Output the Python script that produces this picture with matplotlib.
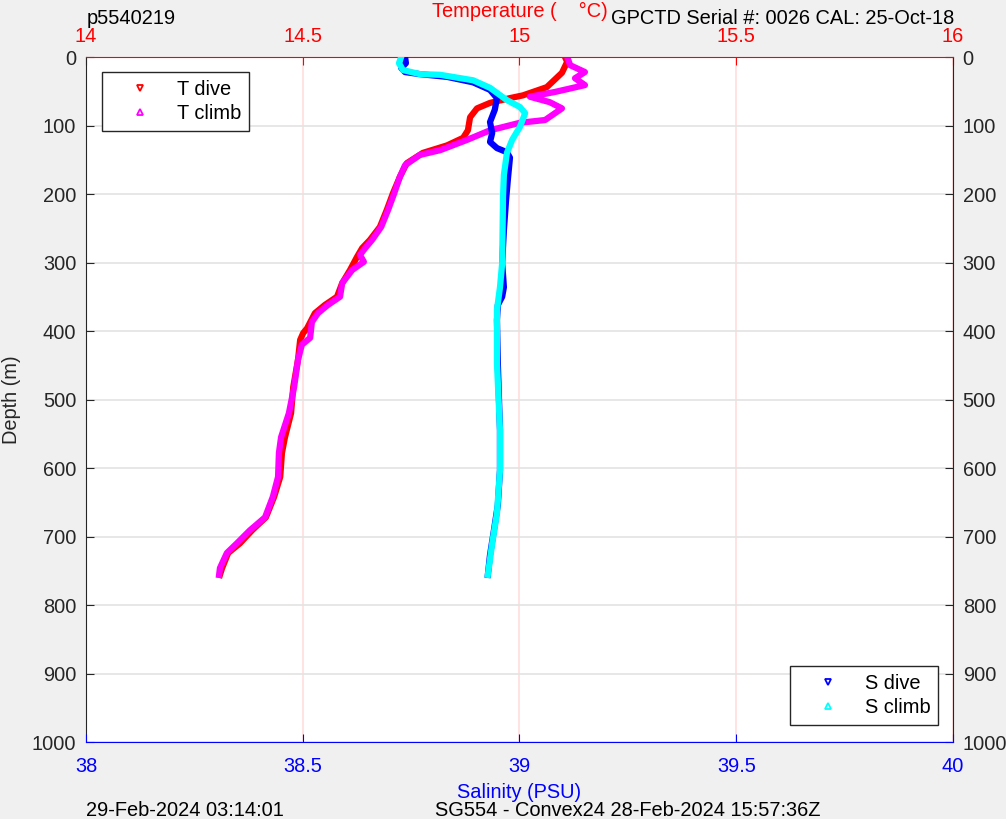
import numpy as np
import matplotlib
matplotlib.use('Agg')
import matplotlib.pyplot as plt
from matplotlib.lines import Line2D

plt.rcParams['font.family'] = ['Liberation Sans', 'DejaVu Sans']
plt.rcParams['font.size'] = 14.4

# temperature dive / climb (deg C) against depth (m)
t_dive = [15.105, 15.110, 15.098, 15.063, 15.008, 14.978, 14.932, 14.902, 14.886, 14.881,
          14.870, 14.833, 14.777, 14.740, 14.724, 14.708, 14.694, 14.678, 14.655, 14.637,
          14.625, 14.609, 14.591, 14.579, 14.551, 14.528, 14.510, 14.501, 14.494, 14.489,
          14.478, 14.473, 14.459, 14.452, 14.448, 14.434, 14.415, 14.383, 14.355, 14.328,
          14.314, 14.309]
d_t_dive = [0, 7, 23, 44, 56, 60, 67, 75, 88, 107,
            118, 129, 140, 155, 175, 199, 223, 248, 267, 279,
            292, 311, 330, 350, 362, 374, 396, 403, 413, 442,
            482, 520, 555, 578, 613, 642, 672, 691, 710, 724,
            746, 756]

t_climb = [15.110, 15.117, 15.151, 15.128, 15.151, 15.082, 15.024, 15.070, 15.098, 15.059,
           15.001, 14.932, 14.879, 14.817, 14.770, 14.736, 14.724, 14.711, 14.697, 14.681,
           14.660, 14.644, 14.632, 14.641, 14.614, 14.591, 14.586, 14.558, 14.535, 14.521,
           14.519, 14.517, 14.498, 14.489, 14.480, 14.468, 14.450, 14.445, 14.443, 14.431,
           14.413, 14.378, 14.348, 14.325, 14.309, 14.307]
d_t_climb = [0, 12, 22, 31, 41, 51, 58, 66, 75, 92,
             96, 107, 121, 136, 143, 158, 175, 199, 223, 248,
             267, 279, 289, 299, 311, 330, 350, 362, 374, 387,
             399, 410, 420, 442, 482, 520, 555, 578, 613, 642,
             672, 691, 710, 724, 746, 756]

# salinity dive / climb (PSU)
s_dive = [38.736, 38.738, 38.727, 38.736, 38.770, 38.833, 38.893, 38.932, 38.948, 38.943,
          38.932, 38.937, 38.932, 38.948, 38.971, 38.978, 38.973, 38.969, 38.964, 38.960,
          38.962, 38.964, 38.960, 38.950, 38.948, 38.950, 38.955, 38.955, 38.950, 38.941,
          38.932, 38.927]
d_s_dive = [0, 9, 16, 22, 25, 29, 37, 48, 60, 77,
            95, 111, 124, 133, 139, 147, 180, 209, 253, 301,
            318, 336, 350, 362, 384, 447, 545, 603, 654, 691,
            727, 756]

s_climb = [38.727, 38.722, 38.731, 38.770, 38.817, 38.893, 38.932, 38.971, 39.001, 39.013,
           39.001, 38.983, 38.971, 38.964, 38.962, 38.960, 38.955, 38.948, 38.948, 38.955,
           38.955, 38.948, 38.937, 38.927]
d_s_climb = [0, 9, 19, 25, 26, 34, 45, 63, 73, 82,
             102, 121, 140, 172, 204, 301, 336, 369, 447, 545,
             603, 666, 710, 756]

fig = plt.figure(figsize=(10.06, 8.19), dpi=100, facecolor='#f0f0f0')
ax = fig.add_axes([0.0855, 0.094, 0.8618, 0.8364])   # temperature axis (top)
ax_s = ax.twiny()                                    # salinity axis (bottom)

ax.xaxis.tick_top()
ax.xaxis.set_label_position('top')
ax_s.xaxis.tick_bottom()
ax_s.xaxis.set_label_position('bottom')

ax.plot(t_dive, d_t_dive, color='red', lw=4.5)
ax.plot(t_climb, d_t_climb, color='magenta', lw=4.5)
ax_s.plot(s_dive, d_s_dive, color='blue', lw=4.5)
ax_s.plot(s_climb, d_s_climb, color='cyan', lw=4.5)

ax.set_xlim(14, 16)
ax_s.set_xlim(38, 40)
ax.set_ylim(1000, 0)
ax.set_xticks([14, 14.5, 15, 15.5, 16])
ax.set_xticklabels(['14', '14.5', '15', '15.5', '16'])
ax_s.set_xticks([38, 38.5, 39, 39.5, 40])
ax_s.set_xticklabels(['38', '38.5', '39', '39.5', '40'])
ax.set_yticks(np.arange(0, 1001, 100))

ax.grid(axis='y', color='#e3e3e3', lw=1.2)
ax.grid(axis='x', color='#ffdede', lw=1.2)
ax.set_axisbelow(True)

ax.tick_params(axis='x', colors='red', direction='in', length=6, pad=8)
ax_s.tick_params(axis='x', colors='blue', direction='in', length=6, pad=11)
ax.tick_params(axis='y', direction='in', length=6, pad=7, left=True, right=True,
               labelleft=True, labelright=True, colors='#262626')

ax.spines['top'].set_color('red')
ax.spines['bottom'].set_visible(False)
for side in ['left', 'right']:
    ax.spines[side].set_color('#262626')
for side in ['top', 'left', 'right']:
    ax_s.spines[side].set_visible(False)
ax_s.spines['bottom'].set_color('blue')

ax.set_xlabel('Temperature (    °C)', color='red', labelpad=7)
ax_s.set_xlabel('Salinity (PSU)', color='blue', labelpad=5)
ax.set_ylabel('Depth (m)', color='#262626', labelpad=8)

h_t = [Line2D([], [], marker='v', color='red', ls='none', ms=5, mfc='none', mew=1.3),
       Line2D([], [], marker='^', color='magenta', ls='none', ms=5, mfc='none', mew=1.3)]
leg = ax.legend(h_t, ['T dive', 'T climb'], loc='upper left', bbox_to_anchor=(0.0185, 0.978),
                borderaxespad=0, fancybox=False, edgecolor='#262626', framealpha=1,
                handlelength=3.0, handletextpad=0.35, borderpad=0.4, labelspacing=0.25)
leg.get_frame().set_linewidth(1.0)

h_s = [Line2D([], [], marker='v', color='blue', ls='none', ms=5, mfc='none', mew=1.3),
       Line2D([], [], marker='^', color='cyan', ls='none', ms=5, mfc='none', mew=1.3)]
leg2 = ax_s.legend(h_s, ['S dive', 'S climb'], loc='lower right', bbox_to_anchor=(0.983, 0.025),
                   borderaxespad=0, fancybox=False, edgecolor='#262626', framealpha=1,
                   handlelength=3.0, handletextpad=0.35, borderpad=0.4, labelspacing=0.25)
leg2.get_frame().set_linewidth(1.0)

fig.text(0.0865, 0.978, 'p5540219', ha='left', va='center')
fig.text(0.949, 0.978, 'GPCTD Serial #: 0026 CAL: 25-Oct-18', ha='right', va='center')
fig.text(0.0855, 0.010, '29-Feb-2024 03:14:01', ha='left', va='center')
fig.text(0.432, 0.010, 'SG554 - Convex24 28-Feb-2024 15:57:36Z', ha='left', va='center')

fig.savefig('out.png', dpi=100, facecolor=fig.get_facecolor())
